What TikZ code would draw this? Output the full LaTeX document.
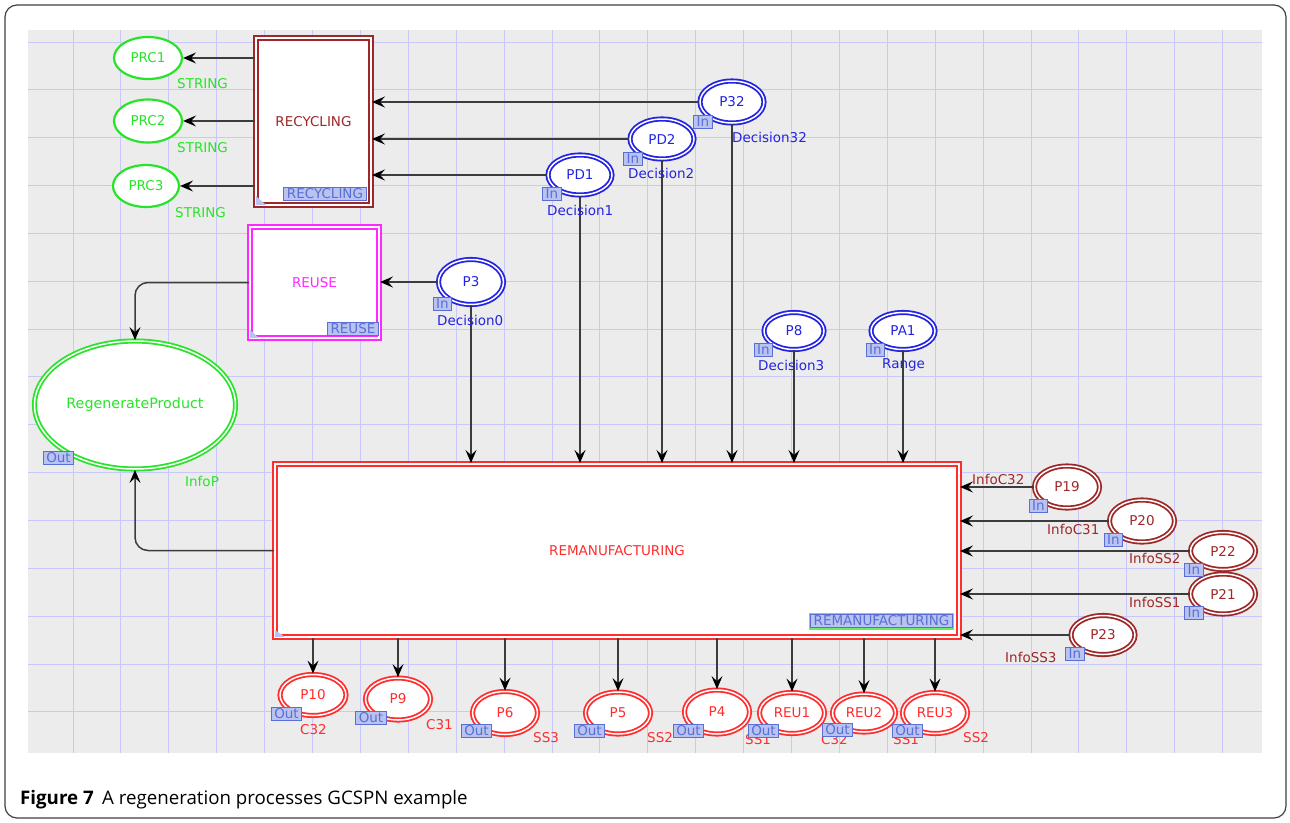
\documentclass[tikz,border=0pt]{standalone}
\usepackage{fontspec}
\setmainfont{DejaVu Sans}
\newfontfamily\capfont{Open Sans}
\usetikzlibrary{shapes.geometric,arrows.meta,calc}

\definecolor{cgreen}{RGB}{40,228,40}
\definecolor{cdred}{RGB}{158,40,40}
\definecolor{cmag}{RGB}{255,40,255}
\definecolor{cblue}{RGB}{35,35,225}
\definecolor{cred}{RGB}{255,45,45}
\definecolor{lavfill}{RGB}{185,195,240}
\definecolor{lavline}{RGB}{90,110,215}
\definecolor{bggray}{RGB}{236,236,236}
\definecolor{gridc}{RGB}{200,200,250}
\definecolor{arrc}{RGB}{60,60,60}

\newcommand\dfont{\fontsize{13.5}{15}\selectfont}

\tikzset{
  pl/.style={ellipse, draw=#1, text=#1, fill=white, inner sep=0pt, font=\dfont, line width=1.8pt, double=white, double distance=1.5pt},
  spl/.style={ellipse, draw=#1, text=#1, fill=white, inner sep=0pt, font=\dfont, line width=2.2pt},
  tr/.style={rectangle, draw=#1, text=#1, fill=white, inner sep=0pt, font=\dfont, line width=2pt, double=white, double distance=2.2pt},
  tag/.style={rectangle, draw=lavline, fill=lavfill, text=lavline, font=\dfont, line width=1pt, inner xsep=3pt, inner ysep=0pt, minimum height=13pt},
  lbl/.style={anchor=west, inner sep=0pt, font=\dfont, text=#1},
  arr/.style={draw=arrc, line width=1.5pt, -{Stealth[length=13pt,width=11pt,inset=5pt,color=black]}},
  gridline/.style={draw=gridc, line width=1pt},
}

\begin{document}
\begin{tikzpicture}[x=1pt,y=-1pt]
\useasboundingbox (0,0) rectangle (1290,822);
\fill[white] (0,0) rectangle (1290,822);
\draw[line width=1.2pt, draw=black!75, rounded corners=12pt] (5,5) rectangle (1286,818);
\fill[bggray] (28,30) rectangle (1262,753);
\foreach \k in {0,...,24} \draw[gridline] ({73+47.9*\k},30) -- ({73+47.9*\k},753);
\foreach \k in {0,...,14} \draw[gridline] (28,{42+47.85*\k}) -- (1262,{42+47.85*\k});

% transitions
\node[tr=cdred, minimum width=115pt, minimum height=167pt] (rec) at (313.5,121.5) {RECYCLING};
\node[tr=cmag, minimum width=129pt, minimum height=111pt] (reuse) at (314.5,282.5) {REUSE};
\node[tr=cred, minimum width=684pt, minimum height=173pt] (rem) at (617,550.5) {REMANUFACTURING};

% places
\node[spl=cgreen, minimum width=68pt, minimum height=42pt] (prc1) at (148,58) {PRC1};
\node[spl=cgreen, minimum width=68pt, minimum height=43pt] (prc2) at (148,121) {PRC2};
\node[spl=cgreen, minimum width=66pt, minimum height=42pt] (prc3) at (146,186) {PRC3};

\node[pl=cblue, minimum width=64pt, minimum height=42pt] (p32) at (732,102) {P32};
\node[pl=cblue, minimum width=64pt, minimum height=40pt] (pd2) at (662,139) {PD2};
\node[pl=cblue, minimum width=64pt, minimum height=40pt] (pd1) at (580,175) {PD1};
\node[pl=cblue, minimum width=65pt, minimum height=45pt] (p3) at (471,282) {P3};
\node[pl=cblue, minimum width=60pt, minimum height=37pt] (p8) at (794,331) {P8};
\node[pl=cblue, minimum width=64pt, minimum height=37pt] (pa1) at (903,331) {PA1};

\node[pl=cgreen, minimum width=201pt, minimum height=128pt, font=\fontsize{14.3}{16}\selectfont] (regen) at (135,405) {RegenerateProduct};

\node[pl=cdred, minimum width=65pt, minimum height=42pt] (p19) at (1067,487) {P19};
\node[pl=cdred, minimum width=65pt, minimum height=42pt] (p20) at (1142,521) {P20};
\node[pl=cdred, minimum width=65pt, minimum height=37pt] (p22) at (1223,551) {P22};
\node[pl=cdred, minimum width=65pt, minimum height=40pt] (p21) at (1223,594) {P21};
\node[pl=cdred, minimum width=64pt, minimum height=39pt] (p23) at (1103,635) {P23};

\node[pl=cred, minimum width=66pt, minimum height=41pt] (p10) at (313,695) {P10};
\node[pl=cred, minimum width=65pt, minimum height=42pt] (p9) at (398,699) {P9};
\node[pl=cred, minimum width=65pt, minimum height=43pt] (p6) at (505,713) {P6};
\node[pl=cred, minimum width=65pt, minimum height=42pt] (p5) at (618,713) {P5};
\node[pl=cred, minimum width=65pt, minimum height=44pt] (p4) at (717,712) {P4};
\node[pl=cred, minimum width=65pt, minimum height=41pt] (reu1) at (792,713) {REU1};
\node[pl=cred, minimum width=63pt, minimum height=38pt] (reu2) at (864,713) {REU2};
\node[pl=cred, minimum width=65pt, minimum height=41pt] (reu3) at (935,713) {REU3};

% connectors
\draw[arr] (rec.west |- prc1.east) -- (prc1.east);
\draw[arr] (rec.west |- prc2.east) -- (prc2.east);
\draw[arr] (rec.west |- prc3.east) -- (prc3.east);
\draw[arr] (p32.west) -- (p32.west -| rec.east);
\draw[arr] (pd2.west) -- (pd2.west -| rec.east);
\draw[arr] (pd1.west) -- (pd1.west -| rec.east);
\draw[arr] (p3.west) -- (p3.west -| reuse.east);
\draw[arr, rounded corners=13pt] (reuse.west) -| (regen.north);
\draw[arr, rounded corners=13pt] (rem.west) -| (regen.south);
\foreach \n in {p3,pd1,pd2,p32,p8,pa1}
  \draw[arr] (\n.south) -- (\n.south |- rem.north);
\foreach \n in {p19,p20,p22,p21,p23}
  \draw[arr] (\n.west) -- (\n.west -| rem.east);
\foreach \n in {p10,p9,p6,p5,p4,reu1,reu2,reu3}
  \draw[arr] (rem.south -| \n.north) -- (\n.north);

% corner marks
\fill[lavfill] ([shift={(1,-1)}]rec.south west) -- ++(0,-9) -- ++(10,9) -- cycle;
\fill[lavfill] ([shift={(1,-1)}]reuse.south west) -- ++(0,-8) -- ++(9,8) -- cycle;
\fill[lavfill] ([shift={(1,-1)}]rem.south west) -- ++(0,-7) -- ++(10,7) -- cycle;

% text labels
\node[lbl=cgreen] (s1) at (177,84) {STRING};
\node[lbl=cgreen] (s2) at (177,148) {STRING};
\node[lbl=cgreen] (s3) at (175,213) {STRING};
\node[lbl=cgreen] (linfop) at (185,481) {InfoP};
\node[lbl=cblue] (ld32) at (732,137) {Decision32};
\node[lbl=cblue] (ld2) at (628,173) {Decision2};
\node[lbl=cblue] (ld1) at (547,210) {Decision1};
\node[lbl=cblue] (ld0) at (437,320) {Decision0};
\node[lbl=cblue] (ld3) at (758,365) {Decision3};
\node[lbl=cblue] (lrange) at (882,365) {Range};
\node[lbl=cdred] (lc32) at (972,479) {InfoC32};
\node[lbl=cdred] (lc31) at (1047,529) {InfoC31};
\node[lbl=cdred] (lss2) at (1129,558) {InfoSS2};
\node[lbl=cdred] (lss1) at (1129,602) {InfoSS1};
\node[lbl=cdred] (lss3) at (1005,657) {InfoSS3};
\node[lbl=cred] (o1) at (300,730) {C32};
\node[lbl=cred] (o2) at (426,725) {C31};
\node[lbl=cred] (o3) at (533,738) {SS3};
\node[lbl=cred] (o4) at (647,738) {SS2};
\node[lbl=cred] (o5) at (745,740) {SS1};
\node[lbl=cred] (o6) at (821,740) {C32};
\node[lbl=cred] (o7) at (893,740) {SS1};
\node[lbl=cred] (o8) at (963,738) {SS2};

% tags
\node[tag] (tp32) at (703,121.5) {In};
\node[tag] (tpd2) at (633,158.5) {In};
\node[tag] (tpd1) at (552,194) {In};
\node[tag] (tp3) at (442.5,304) {In};
\node[tag] (tp8) at (763.5,349.5) {In};
\node[tag] (tpa1) at (875.5,349.5) {In};
\node[tag] (treg) at (58.5,458) {Out};
\node[tag] (tp19) at (1038.5,506) {In};
\node[tag] (tp20) at (1113.5,540) {In};
\node[tag] (tp22) at (1194,570) {In};
\node[tag] (tp21) at (1194,613) {In};
\node[tag] (tp23) at (1075,654) {In};
\node[tag] (tp10) at (286.5,713.5) {Out};
\node[tag] (tp9) at (371,717.5) {Out};
\node[tag] (tp6) at (476.5,730.5) {Out};
\node[tag] (tp5) at (589.5,730.5) {Out};
\node[tag] (tp4) at (688.5,730.5) {Out};
\node[tag] (treu1) at (763.5,730.5) {Out};
\node[tag] (treu2) at (837.5,729.5) {Out};
\node[tag] (treu3) at (907.5,730.5) {Out};
\node[tag] (trec) at (325,193.5) {RECYCLING};
\node[tag] (treuse) at (353,329) {REUSE};
\node[tag, preaction={draw=cgreen!70, line width=4pt}] (trem) at (881.5,621) {REMANUFACTURING};

% caption
\node[anchor=base west, inner sep=0pt, font=\capfont\fontsize{18.7}{22}\selectfont] (cap) at (20,804) {\textbf{Figure 7}\hspace{0.45em}A regeneration processes GCSPN example};
\end{tikzpicture}
\end{document}
